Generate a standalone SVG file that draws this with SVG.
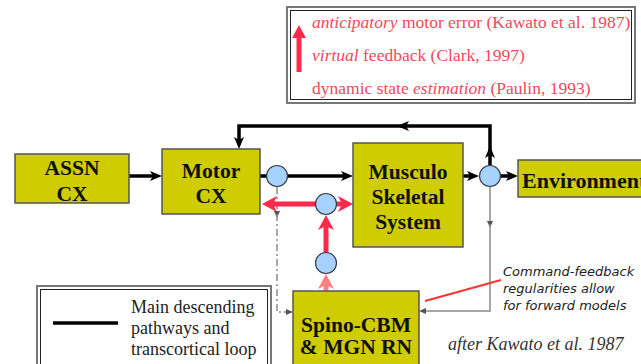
<svg xmlns="http://www.w3.org/2000/svg" width="641" height="364" viewBox="0 0 641 364">
<style>
.box{fill:#cfcc00;stroke:#555;stroke-width:1.5}
.bt{font-family:"Liberation Serif",serif;font-weight:bold;font-size:21.5px;fill:#111;text-anchor:middle}
.node{fill:#a6d2ff;stroke:#3a3a4a;stroke-width:1.2}
.blk{fill:none;stroke:#000;stroke-width:3.5}
.red{fill:none;stroke:#ff2a4a;stroke-width:5}
.sal{fill:none;stroke:#ff8080;stroke-width:5}
.gry{fill:none;stroke:#8a8a8a;stroke-width:1.5}
.dsh{fill:none;stroke:#8a8a8a;stroke-width:1.5;stroke-dasharray:7,3,2,3}
.rt{font-family:"Liberation Serif",serif;font-size:17.5px;fill:#ee4a5a}
.lt{font-family:"Liberation Serif",serif;font-size:18px;fill:#222}
.ct{font-family:"DejaVu Sans",sans-serif;font-style:italic;font-size:13px;fill:#222}
</style>
<defs>
<marker id="ab" markerUnits="userSpaceOnUse" markerWidth="12" markerHeight="11" refX="5" refY="5" orient="auto"><path d="M0,0 L12,5 L0,10 L3,5 z" fill="#000"/></marker>
<marker id="ar" markerUnits="userSpaceOnUse" markerWidth="16" markerHeight="17" refX="7" refY="8" orient="auto"><path d="M0,0 L15,8 L0,16 L4,8 z" fill="#ff2a4a"/></marker>
<marker id="as" markerUnits="userSpaceOnUse" markerWidth="16" markerHeight="17" refX="7" refY="8" orient="auto"><path d="M0,0 L15,8 L0,16 L4,8 z" fill="#ff8080"/></marker>
<marker id="ag" markerUnits="userSpaceOnUse" markerWidth="7" markerHeight="7" refX="4" refY="3" orient="auto"><path d="M0,0 L7,3 L0,6 z" fill="#555"/></marker>
</defs>

<g id="note">
<rect x="287" y="7" width="348" height="96" fill="#fff" stroke="#777" stroke-width="2"/>
<rect x="290.5" y="10.5" width="341" height="89" fill="none" stroke="#222" stroke-width="1"/>
<path d="M299,72 L299,36" stroke="#ff2a4a" stroke-width="5" fill="none"/>
<path d="M292,38 L299,25 L306,38 z" fill="#ff2a4a"/>
<text class="rt" x="312" y="28"><tspan font-style="italic">anticipatory</tspan> motor error (Kawato et al. 1987)</text>
<text class="rt" x="312" y="61"><tspan font-style="italic">virtual</tspan> feedback (Clark, 1997)</text>
<text class="rt" x="312" y="94">dynamic state <tspan font-style="italic">estimation</tspan> (Paulin, 1993)</text>
</g>

<g id="connectors">
<path class="blk" d="M129,176 L155,176" marker-end="url(#ab)"/>
<path class="blk" d="M260,176 L267,176"/>
<path class="blk" d="M288,176 L346,176" marker-end="url(#ab)"/>
<path class="blk" d="M463,176 L472,176" marker-end="url(#ab)"/>
<path class="blk" d="M501,176 L511,176" marker-end="url(#ab)"/>
<path class="blk" d="M490,165 L490,153" marker-end="url(#ab)"/>
<path class="blk" d="M490,151 L490,126 L404,126" marker-end="url(#ab)"/>
<path class="blk" d="M406,126 L239,126 L239,142" marker-end="url(#ab)"/>
<path class="gry" d="M490,187 L490,225" marker-end="url(#ag)"/>
<path class="gry" d="M490,224 L490,311 L422,311" marker-end="url(#ag)"/>
<path class="dsh" d="M277,187 L277,215" marker-end="url(#ag)"/>
<path class="dsh" d="M277,214 L277,312 L290,312" marker-end="url(#ag)"/>
<path class="red" d="M316,204 L270,204" marker-end="url(#ar)"/>
<path class="red" d="M337,204 L345,204" marker-end="url(#ar)"/>
<path class="red" d="M326,252 L326,223" marker-end="url(#ar)"/>
<path class="sal" d="M326,291 L326,282" marker-end="url(#as)"/>
<path d="M425,301 L501,280" stroke="#ff3333" stroke-width="2" fill="none"/>
</g>

<g id="assn"><rect class="box" x="15" y="154" width="114" height="49"/><text class="bt" x="72" y="175">ASSN</text><text class="bt" x="72" y="201">CX</text></g>
<g id="motor"><rect class="box" x="162" y="149" width="98" height="65"/><text class="bt" x="211" y="178">Motor</text><text class="bt" x="211" y="203">CX</text></g>
<g id="musculo"><rect class="box" x="353" y="143" width="110" height="104"/><text class="bt" x="408" y="179">Musculo</text><text class="bt" x="408" y="204">Skeletal</text><text class="bt" x="408" y="229">System</text></g>
<g id="environment"><rect class="box" x="518" y="160" width="130" height="37"/><text class="bt" x="522" y="188" style="text-anchor:start;font-size:22px">Environment</text></g>
<g id="spino"><rect class="box" x="293" y="291" width="126" height="80"/><text class="bt" x="356" y="332">Spino-CBM</text><text class="bt" x="356" y="354">&amp; MGN RN</text></g>

<g id="n1"><circle class="node" cx="277" cy="176" r="10.5"/></g>
<g id="n2"><circle class="node" cx="490" cy="176" r="10.5"/></g>
<g id="n3"><circle class="node" cx="326" cy="204" r="10.5"/></g>
<g id="n4"><circle class="node" cx="326" cy="263" r="10.5"/></g>

<g id="legend">
<rect x="37" y="286" width="234" height="90" fill="#fff" stroke="#777" stroke-width="2"/>
<rect x="40.5" y="289.5" width="227" height="83" fill="none" stroke="#222" stroke-width="1"/>
<path d="M53,323 L118,323" stroke="#000" stroke-width="3.5"/>
<text class="lt" x="131" y="313">Main descending</text>
<text class="lt" x="131" y="334">pathways and</text>
<text class="lt" x="131" y="355">transcortical loop</text>
</g>

<g id="comment">
<text class="ct" x="503" y="276">Command-feedback</text>
<text class="ct" x="503" y="293">regularities allow</text>
<text class="ct" x="503" y="310">for forward models</text>
</g>
<g id="credit"><text x="448" y="350" font-family="'Liberation Serif',serif" font-style="italic" font-size="18" fill="#333">after Kawato et al. 1987</text></g>
</svg>
